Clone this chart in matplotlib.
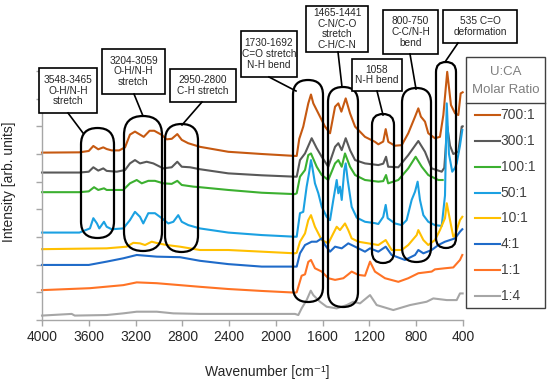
import matplotlib
matplotlib.use('Agg')
import matplotlib.pyplot as plt
from matplotlib.patches import FancyBboxPatch, Rectangle

plt.rcParams['font.family'] = ['Liberation Sans', 'DejaVu Sans']

# FTIR spectra, stacked (arbitrary offset units)
labels = ['700:1', '300:1', '100:1', '50:1', '10:1', '4:1', '1:1', '1:4']
colors = ['#C65911', '#595959', '#3CB030', '#1BA1E2', '#FFC000', '#1F6BC9', '#FF7325', '#A6A6A6']

wn_700 = [4000, 3680, 3600, 3561, 3519, 3476, 3447, 3404, 3340, 3290, 3248, 3205, 3130, 3080, 3040, 2976,
          2934, 2890, 2843, 2805, 2750, 2650, 2407, 2121, 1837, 1822, 1800, 1766, 1723, 1700, 1680, 1637,
          1580, 1537, 1494, 1466, 1440, 1403, 1366, 1323, 1238, 1153, 1124, 1082, 1061, 1039, 982, 924,
          868, 810, 782, 760, 725, 697, 640, 597, 568, 535, 503, 468, 440, 420, 403]
int_700 = [6.05, 6.06, 6.11, 6.29, 6.17, 6.24, 6.18, 6.13, 6.13, 6.24, 6.70, 6.81, 6.62, 6.84, 6.84, 6.69,
           6.53, 6.55, 6.72, 6.51, 6.39, 6.26, 6.08, 6.00, 5.93, 5.93, 6.55, 6.99, 7.83, 8.15, 7.83, 7.47,
           6.99, 6.75, 7.71, 7.83, 7.53, 8.01, 7.47, 6.99, 6.62, 6.44, 6.35, 6.45, 6.90, 6.44, 6.30, 6.32,
           6.75, 7.35, 7.65, 7.35, 7.17, 6.75, 6.57, 6.62, 7.41, 8.97, 7.77, 7.47, 7.41, 8.19, 8.23]

wn_300 = [4000, 3680, 3600, 3561, 3519, 3476, 3447, 3361, 3290, 3248, 3205, 3162, 3105, 3048, 2963, 2891,
          2843, 2805, 2734, 2650, 2407, 2121, 1837, 1822, 1794, 1751, 1694, 1651, 1608, 1552, 1494, 1466,
          1437, 1403, 1366, 1323, 1238, 1124, 1082, 1058, 1040, 953, 868, 782, 725, 668, 582, 560, 535,
          511, 483, 440, 411, 403]
int_300 = [5.33, 5.33, 5.36, 5.52, 5.40, 5.48, 5.39, 5.36, 5.42, 5.66, 5.78, 5.66, 5.72, 5.66, 5.48, 5.52,
           5.72, 5.54, 5.52, 5.45, 5.30, 5.23, 5.18, 5.18, 5.78, 6.02, 6.57, 6.21, 5.90, 5.54, 6.26, 6.39,
           6.14, 6.57, 6.14, 5.78, 5.66, 5.60, 5.65, 5.90, 5.54, 5.52, 5.96, 6.47, 6.08, 5.48, 5.36, 5.50, 7.00,
           6.30, 6.00, 6.08, 6.99, 7.00]

wn_100 = [4000, 3680, 3600, 3555, 3519, 3470, 3447, 3305, 3248, 3190, 3147, 3091, 3034, 2963, 2891, 2843,
          2805, 2706, 2650, 2407, 2121, 1837, 1822, 1794, 1751, 1723, 1700, 1651, 1608, 1552, 1494, 1466,
          1437, 1409, 1366, 1323, 1238, 1124, 1082, 1058, 1040, 953, 868, 805, 753, 697, 611, 574]
int_100 = [4.62, 4.62, 4.65, 4.80, 4.70, 4.76, 4.70, 4.70, 4.94, 5.06, 4.94, 5.03, 5.03, 4.94, 4.92, 5.03,
           4.88, 4.82, 4.80, 4.70, 4.60, 4.55, 4.58, 5.18, 5.42, 5.96, 6.02, 5.54, 5.24, 5.06, 5.66, 5.78,
           5.54, 6.02, 5.54, 5.24, 5.06, 5.00, 5.02, 5.24, 4.94, 5.06, 5.48, 5.90, 5.54, 5.24, 5.06, 5.06]

wn_50 = [4000, 3680, 3590, 3561, 3530, 3510, 3470, 3447, 3404, 3305, 3248, 3205, 3162, 3134, 3091, 3034,
         2976, 2920, 2877, 2835, 2805, 2749, 2650, 2407, 2121, 1837, 1822, 1794, 1766, 1737, 1717, 1700,
         1689, 1666, 1637, 1608, 1566, 1537, 1509, 1480, 1466, 1452, 1437, 1415, 1403, 1386, 1352, 1309,
         1238, 1153, 1124, 1082, 1061, 1044, 982, 924, 882, 839, 810, 788, 768, 739, 697, 640, 582, 554,
         539, 520, 492, 468, 454, 426, 406]
int_50 = [3.16, 3.16, 3.31, 3.68, 3.49, 3.31, 3.55, 3.37, 3.28, 3.31, 3.61, 3.91, 3.73, 3.49, 3.86, 3.86,
          3.68, 3.49, 3.55, 3.79, 3.55, 3.43, 3.31, 3.16, 3.07, 3.01, 3.01, 3.86, 3.91, 4.82, 5.30, 5.78,
          5.54, 4.94, 4.58, 4.09, 3.73, 3.61, 4.34, 5.06, 4.58, 4.82, 4.34, 5.42, 5.66, 5.06, 4.09, 3.70,
          3.55, 3.50, 3.47, 3.73, 4.16, 3.68, 3.49, 3.43, 3.61, 4.34, 4.64, 5.00, 4.34, 3.79, 3.55, 3.43, 3.40, 4.50,
          7.83, 6.00, 5.36, 5.50, 5.66, 6.30, 6.87]

wn_10 = [4000, 3447, 3276, 3219, 3162, 3119, 3062, 3006, 2934, 2820, 2650, 2407, 2121, 1837, 1822, 1794,
         1751, 1723, 1700, 1666, 1608, 1552, 1509, 1480, 1452, 1409, 1381, 1352, 1295, 1210, 1124, 1061,
         1010, 924, 868, 796, 782, 739, 697, 640, 597, 554, 539, 511, 483, 468, 426, 406]
int_10 = [2.56, 2.59, 2.65, 2.79, 2.77, 2.71, 2.83, 2.77, 2.71, 2.65, 2.53, 2.53, 2.47, 2.41, 2.43, 2.83,
          3.13, 3.61, 3.79, 3.37, 2.89, 2.77, 3.13, 3.37, 3.25, 3.49, 3.25, 2.95, 2.83, 2.77, 2.71, 2.89,
          2.53, 2.53, 2.71, 3.07, 3.25, 2.89, 2.71, 2.89, 3.25, 3.68, 4.22, 3.61, 3.01, 3.07, 3.61, 3.73]

wn_4 = [4000, 3600, 3447, 3305, 3190, 3019, 2820, 2650, 2407, 2121, 1837, 1822, 1794, 1751, 1694, 1651,
        1608, 1580, 1537, 1494, 1437, 1381, 1323, 1238, 1195, 1124, 1061, 1010, 896, 810, 782, 739, 668,
        611, 554, 511, 468, 426, 406]
int_4 = [1.99, 1.99, 2.11, 2.23, 2.35, 2.29, 2.27, 2.14, 2.02, 1.93, 1.93, 1.93, 2.41, 2.71, 2.83, 2.83,
         2.95, 2.71, 2.47, 2.65, 2.59, 2.77, 2.65, 2.47, 2.59, 2.47, 2.65, 2.35, 2.17, 2.35, 2.53, 2.41, 2.53,
         2.71, 2.83, 2.89, 2.95, 3.19, 3.28]

wn_1 = [4000, 3590, 3305, 3190, 3019, 2820, 2650, 2407, 2121, 1837, 1822, 1808, 1780, 1751, 1723, 1700,
        1666, 1608, 1552, 1494, 1423, 1381, 1352, 1295, 1238, 1195, 1153, 1067, 953, 868, 782, 668, 640,
        554, 483, 426, 406]
int_1 = [1.08, 1.15, 1.26, 1.36, 1.33, 1.26, 1.20, 1.12, 1.05, 0.99, 1.00, 1.20, 1.60, 1.65, 2.10, 2.17,
         1.87, 1.75, 1.51, 1.45, 1.51, 1.65, 1.75, 1.63, 1.60, 2.11, 1.75, 1.51, 1.38, 1.51, 1.69, 1.75, 1.83,
         1.87, 1.90, 2.17, 2.35]

wn_14 = [4000, 3746, 3720, 3447, 3305, 3190, 3019, 2877, 2650, 2121, 1837, 1808, 1780, 1737, 1702, 1680,
         1623, 1566, 1480, 1394, 1338, 1281, 1195, 1138, 996, 853, 711, 654, 539, 454, 426, 403]
int_14 = [0.16, 0.22, 0.16, 0.18, 0.24, 0.30, 0.30, 0.24, 0.22, 0.22, 0.22, 0.18, 0.42, 0.72, 1.06, 0.90,
          0.66, 0.48, 0.42, 0.54, 0.66, 0.60, 0.90, 0.54, 0.36, 0.54, 0.66, 0.78, 0.72, 0.72, 0.96, 0.96]

wavenumbers = [wn_700, wn_300, wn_100, wn_50, wn_10, wn_4, wn_1, wn_14]
intensities = [int_700, int_300, int_100, int_50, int_10, int_4, int_1, int_14]
xticks = [4000, 3600, 3200, 2800, 2400, 2000, 1600, 1200, 800, 400]

# band annotations: text, box (left, right, top, bottom) and loop (left, right, top, bottom) in pixels
band_texts = ['3548-3465\nO-H/N-H\nstretch', '3204-3059\nO-H/N-H\nstretch', '2950-2800\nC-H stretch',
              '1730-1692\nC=O stretch\nN-H bend', '1465-1441\nC-N/C-O\nstretch\nC-H/C-N',
              '1058\nN-H bend', '800-750\nC-C/N-H\nbend', '535 C=O\ndeformation']
band_boxes = [(39, 97, 68, 113), (102, 165, 49, 94), (170, 236, 69, 102), (241, 297, 31, 77),
              (306, 368, 6, 52), (352, 402, 59, 91), (383, 438, 10, 54), (443, 517, 10, 43)]
band_loops = [(81, 114, 128, 238), (124, 162, 116, 251), (165, 198, 124, 252), (293, 323, 80, 302),
              (328, 358, 87, 307), (372, 394, 114, 263), (402, 431, 88, 262), (436, 456, 62, 248)]
band_links = [((68, 113), (83, 133)), ((134, 94), (143, 116)), ((202, 102), (182, 125)),
              ((269, 77), (296, 91)), ((338, 52), (342, 87)), ((377, 91), (383, 115)),
              ((410, 54), (416, 89)), ((458, 43), (445, 62))]

fig = plt.figure(figsize=(5.5, 3.83), dpi=100)
ax = fig.add_axes([42 / 550, 63 / 383, 421 / 550, 249 / 383])

for wn, y, c in zip(wavenumbers, intensities, colors):
    ax.plot(wn, y, color=c, lw=1.5, clip_on=False)

ax.set_xlim(4000, 400)
ax.set_ylim(0, 9)
ax.set_xticks(xticks)
ax.set_yticks(range(10))
ax.set_yticklabels([])
for s in ['top', 'right']:
    ax.spines[s].set_visible(False)
for s in ['left', 'bottom']:
    ax.spines[s].set_color('#A6A6A6')
    ax.spines[s].set_linewidth(1)
ax.tick_params(direction='out', length=4, width=1, color='#A6A6A6', labelsize=10, labelcolor='#262626')
ax.set_xlabel('Wavenumber [cm⁻¹]', fontsize=10, color='#262626')
ax.xaxis.set_label_coords(0.534, -0.181)
ax.set_ylabel('Intensity [arb. units]', fontsize=10, color='#262626')
ax.yaxis.set_label_coords(-0.062, 0.556)

# overlay in pixel coordinates for the annotations and the legend
ov = fig.add_axes([0, 0, 1, 1])
ov.set_xlim(0, 550)
ov.set_ylim(383, 0)
ov.axis('off')
ov.patch.set_alpha(0)

for (x0, x1, y0, y1) in band_loops:
    w = x1 - x0
    ov.add_patch(FancyBboxPatch((x0, y0), w, y1 - y0, boxstyle=f'round,pad=0,rounding_size={w / 2}',
                                fc='none', ec='black', lw=1.6))
for (p, q) in band_links:
    ov.plot([p[0], q[0]], [p[1], q[1]], color='black', lw=1.2)
for txt, (x0, x1, y0, y1) in zip(band_texts, band_boxes):
    ov.add_patch(Rectangle((x0, y0), x1 - x0, y1 - y0, fc='white', ec='black', lw=1.2))
    ov.text((x0 + x1) / 2, (y0 + y1) / 2, txt, ha='center', va='center', fontsize=7.3,
            linespacing=1.12, color='#262626')

# legend
ov.add_patch(Rectangle((466, 57), 79, 251, fc='white', ec='#404040', lw=1))
ov.plot([466, 545], [103, 103], color='#404040', lw=1)
ov.text(505.5, 72, 'U:CA', ha='center', va='center', fontsize=9.5, color='#7F7F7F')
ov.text(505.5, 90, 'Molar Ratio', ha='center', va='center', fontsize=9.5, color='#7F7F7F')
for i, (lab, c) in enumerate(zip(labels, colors)):
    yy = 115 + i * 25.85
    ov.plot([475, 500], [yy, yy], color=c, lw=1.5)
    ov.text(500.5, yy, lab, ha='left', va='center', fontsize=10, color='#404040')

fig.savefig('out.png', dpi=100)
